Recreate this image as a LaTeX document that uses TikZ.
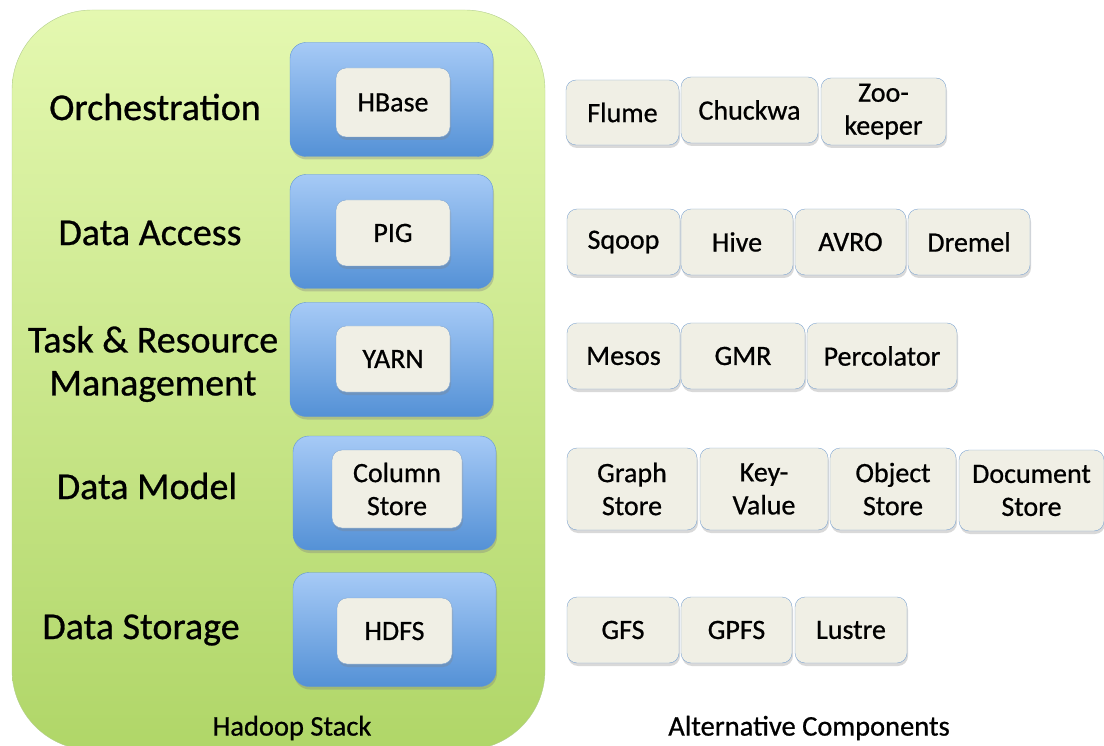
\documentclass[tikz,border=0pt]{standalone}
\usepackage{fontspec}
\setmainfont{Carlito}[FakeBold=0.7]
\usetikzlibrary{shadows}

\definecolor{stacktop}{RGB}{228,248,176}
\definecolor{stackbot}{RGB}{176,214,104}
\definecolor{stackline}{RGB}{178,206,140}
\definecolor{layertop}{RGB}{166,202,246}
\definecolor{layerbot}{RGB}{84,145,214}
\definecolor{layerline}{RGB}{96,150,214}
\definecolor{partfill}{RGB}{240,239,229}
\definecolor{partline}{RGB}{128,166,210}

\tikzset{
  stack/.style={draw=stackline, rounded corners=80pt, top color=stacktop, bottom color=stackbot},
  layer/.style={draw=layerline, rounded corners=16pt, top color=layertop, bottom color=layerbot,
    minimum width=203pt, minimum height=114pt,
    drop shadow={opacity=0.35, shadow xshift=1pt, shadow yshift=-3pt}},
  part/.style={draw=partline, fill=partfill, rounded corners=10pt, inner sep=1pt,
    align=center, font=\fontsize{28}{33}\selectfont,
    drop shadow={opacity=0.3, shadow xshift=1pt, shadow yshift=-3pt}},
  lbl/.style={align=center, font=\fontsize{38}{43}\selectfont},
  captext/.style={font=\fontsize{28.5}{30}\selectfont}
}

\begin{document}
\begin{tikzpicture}[x=1pt, y=-1pt]
    \useasboundingbox (0,0) rectangle (1104,746);

    % Hadoop stack
    \node[stack, minimum width=533pt, minimum height=740pt] (hadoop) at (278.5,380) {};
    \node[captext] (hadoopcap) at (292,728) {Hadoop Stack};

    \node[lbl] (orch) at (155,107) {Orchestration};
    \node[lbl] (access) at (150,233) {Data Access};
    \node[lbl] (task) at (153,364) {Task \& Resource\\Management};
    \node[lbl] (model) at (147,486) {Data Model};
    \node[lbl] (storage) at (141,630) {Data Storage};

    \node[layer] (orchlayer) at (391.5,99.5) {};
    \node[layer] (accesslayer) at (391.5,231.5) {};
    \node[layer] (tasklayer) at (391.5,359.5) {};
    \node[layer] (modellayer) at (394.5,493) {};
    \node[layer] (storagelayer) at (394.5,629.5) {};

    \node[part, minimum width=114pt, minimum height=69pt] (hbase) at (393,102.5) {HBase};
    \node[part, minimum width=114pt, minimum height=66pt] (pig) at (393,233) {PIG};
    \node[part, minimum width=114pt, minimum height=66pt] (yarn) at (393,359) {YARN};
    \node[part, minimum width=130pt, minimum height=78pt] (column) at (397,489) {Column\\Store};
    \node[part, minimum width=115pt, minimum height=66pt] (hdfs) at (394.5,631) {HDFS};

    % alternatives
    \node[part, minimum width=113pt, minimum height=65pt] (flume) at (622.5,112.5) {Flume};
    \node[part, minimum width=137pt, minimum height=66pt] (chuckwa) at (749.5,110) {Chuckwa};
    \node[part, minimum width=125pt, minimum height=67pt] (zoo) at (883.5,111.5) {Zoo-\\keeper};

    \node[part, minimum width=113pt, minimum height=66pt] (sqoop) at (623.5,242) {Sqoop};
    \node[part, minimum width=112pt, minimum height=66pt] (hive) at (737,242) {Hive};
    \node[part, minimum width=111pt, minimum height=66pt] (avro) at (850.5,242) {AVRO};
    \node[part, minimum width=122pt, minimum height=66pt] (dremel) at (969,242) {Dremel};

    \node[part, minimum width=113pt, minimum height=66pt] (mesos) at (623.5,356) {Mesos};
    \node[part, minimum width=124pt, minimum height=66pt] (gmr) at (743,356) {GMR};
    \node[part, minimum width=150pt, minimum height=66pt] (percolator) at (882,356) {Percolator};

    \node[part, minimum width=130pt, minimum height=82pt] (graph) at (632,489) {Graph\\Store};
    \node[part, minimum width=128pt, minimum height=82pt] (keyvalue) at (764,489) {Key-\\Value};
    \node[part, minimum width=126pt, minimum height=82pt] (object) at (893,489) {Object\\Store};
    \node[part, minimum width=145pt, minimum height=81pt] (document) at (1031.5,490.5) {Document\\Store};

    \node[part, minimum width=112pt, minimum height=66pt] (gfs) at (623,630) {GFS};
    \node[part, minimum width=111pt, minimum height=66pt] (gpfs) at (736.5,630) {GPFS};
    \node[part, minimum width=112pt, minimum height=66pt] (lustre) at (851,630) {Lustre};

    \node[captext] (altcap) at (809,728) {Alternative Components};
\end{tikzpicture}
\end{document}
